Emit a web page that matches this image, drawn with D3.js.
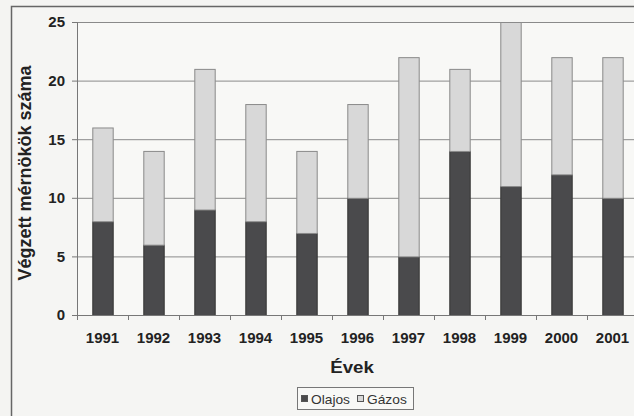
<!DOCTYPE html>
<html><head><meta charset="utf-8">
<script src="https://cdn.jsdelivr.net/npm/d3@7"></script>
<style>
html,body{margin:0;padding:0;background:#f4f4f2;}
svg{display:block;font-family:Arial,"Liberation Sans",sans-serif;}
</style></head>
<body>
<svg id="c" width="634" height="416"></svg>
<script>
const years = ["1991","1992","1993","1994","1995","1996","1997","1998","1999","2000","2001"];
const olajos = [8,6,9,8,7,10,5,14,11,12,10];
const gazos  = [8,8,12,10,7,8,17,7,14,10,12];
const yTicks = [0,5,10,15,20,25];
const seriesNames = ["Olajos","Gázos"];
const colors = ["#4a4a4c","#d8d8d8"];

const svg = d3.select("#c");
const W = 634, H = 416;
const m = {left:77, top:22, right:-4, bottom:101};
const pw = W - m.left - m.right, ph = H - m.top - m.bottom;

// outer frame
svg.append("rect").attr("x",11.5).attr("y",6.5).attr("width",640).attr("height",430)
  .attr("fill","#f5f5f3").attr("stroke","#666").attr("stroke-width",1.5);

const g = svg.append("g").attr("transform",`translate(${m.left},${m.top})`);
const x = d3.scaleBand().domain(years).range([0,pw]).paddingInner(0.6).paddingOuter(0.3);
const y = d3.scaleLinear().domain([0,25]).range([ph,0]);

g.append("rect").attr("width",pw).attr("height",ph).attr("fill","#f8f8f6");

// grid
g.selectAll(".grid").data(yTicks.filter(d=>d>0)).join("line")
  .attr("x1",0).attr("x2",pw).attr("y1",d=>y(d)+0.5).attr("y2",d=>y(d)+0.5)
  .attr("stroke","#8a8a8a").attr("stroke-width",1);

const stackData = years.map((yr,i)=>({year:yr, Olajos:olajos[i], "Gázos":gazos[i]}));
const stack = d3.stack().keys(seriesNames)(stackData);
g.selectAll(".s").data(stack).join("g").attr("fill",(d,i)=>colors[i])
  .attr("stroke",(d,i)=> i===0 ? "#333" : "#8a8a8a").attr("stroke-width",1)
  .selectAll("rect").data(d=>d).join("rect")
  .attr("x",d=>x(d.data.year)+0.5).attr("width",x.bandwidth())
  .attr("y",d=>y(d[1])+0.5).attr("height",d=>y(d[0])-y(d[1]));

// y axis
const ya = g.append("g").call(d3.axisLeft(y).tickValues(yTicks).tickSize(5).tickPadding(7));
ya.select(".domain").attr("stroke","#777");
ya.selectAll(".tick line").attr("stroke","#777");
ya.selectAll("text").attr("font-size",15).attr("font-weight","bold").attr("fill","#222");

// x axis
const xa = g.append("g").attr("transform",`translate(0,${ph})`)
  .call(d3.axisBottom(x).tickSize(0).tickPadding(17));
xa.select(".domain").attr("stroke","#777");
xa.selectAll("text").attr("font-size",15).attr("font-weight","bold").attr("fill","#222");
const step = x.step();
const bounds = years.map((d,i)=> x(d) - (step - x.bandwidth())/2).concat([pw]);
xa.selectAll(".bt").data(bounds).join("line").attr("class","bt")
  .attr("x1",d=>d+0.5).attr("x2",d=>d+0.5).attr("y1",0).attr("y2",5).attr("stroke","#777");

// titles
svg.append("text").attr("transform","translate(31,173) rotate(-90)").attr("text-anchor","middle")
  .attr("font-size",18).attr("font-weight","bold").attr("fill","#222").text("Végzett mérnökök száma");
svg.append("text").attr("transform","translate(352,373) scale(1.1,1)").attr("text-anchor","middle")
  .attr("font-size",17).attr("font-weight","bold").attr("fill","#222").text("Évek");

// legend
const lg = svg.append("g").attr("transform","translate(297,387)");
lg.append("rect").attr("x",0.5).attr("y",0.5).attr("width",116).attr("height",22).attr("fill","#f8f8f6").attr("stroke","#777");
const items = lg.selectAll(".li").data(seriesNames).join("g")
  .attr("transform",(d,i)=>`translate(${i===0?4:60},0)`);
items.append("rect").attr("x",0.5).attr("y",8.5).attr("width",6).attr("height",6)
  .attr("fill",(d,i)=>colors[i]).attr("stroke","#555");
items.append("text").attr("transform","translate(10,16.5) scale(1.06,1)").attr("font-size",13).attr("fill","#333").text(d=>d);
</script>
</body></html>
